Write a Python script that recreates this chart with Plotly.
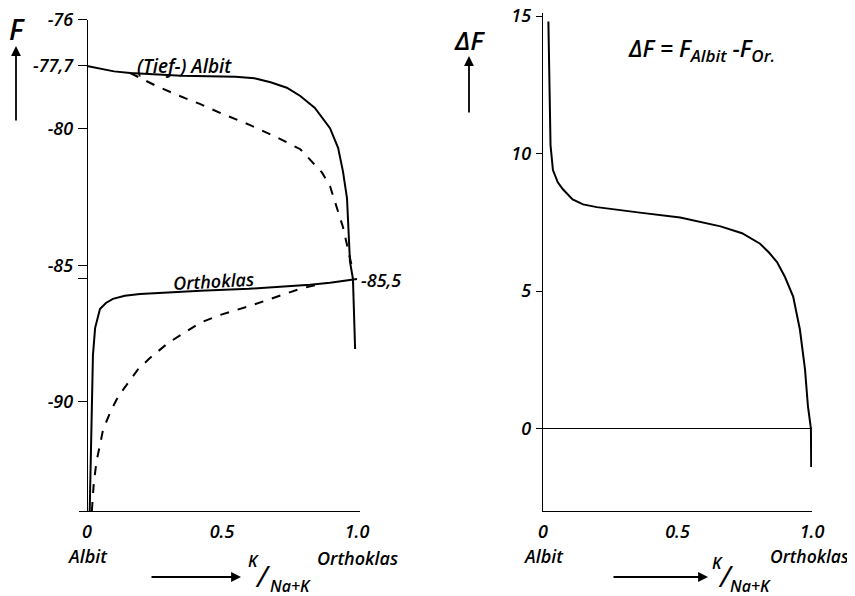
import plotly.graph_objects as go

# ---------------- data ----------------
albit_x = [0, 0.05, 0.1, 0.16, 0.25, 0.35, 0.45, 0.55, 0.62, 0.68, 0.74, 0.79, 0.844, 0.9, 0.93, 0.948, 0.963, 0.974, 0.985, 0.993]
albit_F = [-77.7, -77.8, -77.9, -77.96, -78.02, -78.06, -78.08, -78.1, -78.15, -78.3, -78.5, -78.8, -79.24, -79.98, -80.7, -81.56, -82.55, -84.87, -85.5, -88.07]

albit_dash_x = [0.16, 0.25, 0.33, 0.42, 0.5, 0.6, 0.7, 0.79, 0.87, 0.9, 0.948, 0.974, 0.98]
albit_dash_F = [-77.96, -78.4, -78.75, -79.1, -79.45, -79.85, -80.3, -80.75, -81.6, -82.1, -83.6, -84.65, -85.0]

orth_x = [0.01, 0.015, 0.022, 0.03, 0.048, 0.07, 0.096, 0.14, 0.196, 0.3, 0.42, 0.6, 0.79, 0.826, 0.9, 1.0]
orth_F = [-94.0, -91.7, -88.3, -87.3, -86.6, -86.38, -86.23, -86.12, -86.05, -86.0, -85.93, -85.86, -85.75, -85.71, -85.64, -85.5]

orth_dash_x = [0.018, 0.025, 0.035, 0.06, 0.09, 0.116, 0.16, 0.19, 0.233, 0.3, 0.42, 0.5, 0.6, 0.7, 0.79, 0.85]
orth_dash_F = [-94.0, -93.0, -92.2, -91.0, -90.3, -89.8, -89.2, -88.8, -88.4, -87.85, -87.1, -86.8, -86.5, -86.15, -85.86, -85.72]

dF_x = [0.02, 0.024, 0.028, 0.037, 0.055, 0.074, 0.11, 0.149, 0.2, 0.36, 0.51, 0.66, 0.74, 0.807, 0.84, 0.87, 0.9, 0.93, 0.955, 0.974, 0.985, 0.996, 0.997]
dF_y = [14.8, 12.0, 10.3, 9.4, 8.95, 8.7, 8.33, 8.15, 8.05, 7.85, 7.67, 7.35, 7.1, 6.72, 6.4, 6.05, 5.5, 4.8, 3.6, 2.15, 0.8, 0.0, -1.4]

F_ticks = [-76, -77.7, -80, -85, -85.5, -90]
F_ticktext = ["-76", "-77,7", "-80", "-85", "", "-90"]
F_right_ticks = [-76, -77.7, -80, -85, -90]
dF_ticks = [15, 10, 5, 0]
dF_right_ticks = [15, 10, 5]
x_ticks = [0, 0.5, 1.0]
x_ticktext = ["0", "0.5", "1.0"]

# ---------------- layout helpers ----------------
W, H = 855, 596
OFF = 8  # page body margin
def px(x):
    return (x - OFF) / W
def py(y):
    return 1 - (y - OFF) / H

FAM = "Open Sans"
def font(size, weight=600):
    return dict(family=FAM, size=size, color="black", style="italic", weight=weight)

LINE = dict(color="black", width=2)
DASH = dict(color="black", width=2, dash="dash")

fig = go.Figure()
fig.add_trace(go.Scatter(x=albit_x, y=albit_F, mode="lines", line=LINE, xaxis="x", yaxis="y"))
fig.add_trace(go.Scatter(x=albit_dash_x, y=albit_dash_F, mode="lines", line=DASH, xaxis="x", yaxis="y"))
fig.add_trace(go.Scatter(x=orth_x, y=orth_F, mode="lines", line=LINE, xaxis="x", yaxis="y"))
fig.add_trace(go.Scatter(x=orth_dash_x, y=orth_dash_F, mode="lines", line=DASH, xaxis="x", yaxis="y"))
fig.add_trace(go.Scatter(x=dF_x, y=dF_y, mode="lines", line=LINE, xaxis="x2", yaxis="y3"))

AX = dict(showgrid=False, zeroline=False, linecolor="black", linewidth=1.4, tickcolor="black",
          tickwidth=1.4, ticklabeloverflow="allow")

left_ydom = [py(511), py(19.5)]
right_ydom = [py(511), py(13)]
dF_range = [-3, 15 + 3/27.5]

fig.update_layout(
    width=W, height=H, margin=dict(l=0, r=0, t=0, b=0, autoexpand=False),
    paper_bgcolor="white", plot_bgcolor="rgba(0,0,0,0)", showlegend=False,
    xaxis=dict(AX, domain=[px(79), px(360)], range=[-8/270, 1 + 3/270], anchor="y",
               showline=True, ticks="", tickvals=x_ticks, ticktext=x_ticktext,
               tickfont=font(18), ticklabelstandoff=4),
    yaxis=dict(AX, domain=left_ydom, range=[-94, -76], anchor="free", position=px(87),
               showline=True, ticks="outside", ticklen=9, tickvals=F_ticks, ticktext=F_ticktext,
               tickfont=font(18), ticklabelstandoff=1),
    yaxis2=dict(AX, domain=left_ydom, range=[-94, -76], anchor="free", position=px(357),
                overlaying="y", side="right", showline=True, ticks="outside", ticklen=10,
                tickvals=F_right_ticks, showticklabels=False),
    xaxis2=dict(AX, domain=[px(543), px(812)], range=[0, 1.0], anchor="y3",
                showline=True, ticks="", tickvals=x_ticks, ticktext=x_ticktext,
                tickfont=font(18), ticklabelstandoff=4),
    yaxis3=dict(AX, domain=right_ydom, range=dF_range, anchor="x2", side="left",
                showline=True, ticks="outside", ticklen=6, tickvals=dF_ticks,
                tickfont=font(18), ticklabelstandoff=1,
                zeroline=True, zerolinecolor="black", zerolinewidth=1.2),
    yaxis4=dict(AX, domain=right_ydom, range=dF_range, anchor="x2",
                overlaying="y3", side="right", showline=True, ticks="outside", ticklen=10,
                tickvals=dF_right_ticks, showticklabels=False),
)

ann = []
def text(x, y, s, size, xanchor="center", yanchor="middle", textangle=0, xref="paper", weight=600):
    ann.append(dict(x=x, y=y, xref=xref, yref="paper", text=s, showarrow=False,
                    font=font(size, weight), xanchor=xanchor, yanchor=yanchor, textangle=textangle,
                    borderpad=0))

def arrow(x0, y0, x1, y1):
    # head at (x1, y1), tail at (x0, y0), pixel coordinates
    ann.append(dict(x=px(x1), y=py(y1), xref="paper", yref="paper", text="",
                    showarrow=True, ax=x0 - x1, ay=y0 - y1, axref="pixel", ayref="pixel",
                    arrowhead=2, arrowsize=1.1, arrowwidth=1.8, arrowcolor="black"))

# left panel texts
text(px(17), py(29), "F", 28)
arrow(16, 122, 16, 46)
text(px(184), py(66), "(Tief-) Albit", 19)
text(px(213), py(281), "Orthoklas", 18, textangle=-3)
text(px(360), py(280), "-85,5", 18, xanchor="left")
text(0, py(556), "Albit", 18, xref="x")
text(1, py(558), "Orthoklas", 18, xref="x")
arrow(150, 577, 241, 577)
text(px(253), py(561), "K", 16)
text(px(263), py(575), "/", 30, weight=400)
text(px(290), py(586), "Na+K", 16)

# right panel texts
text(px(469), py(40), "ΔF", 26)
arrow(469, 114, 469, 56)
text(px(701), py(50),
     "ΔF = F<sub><span style='font-size:17px'>Albit</span></sub> -F<sub><span style='font-size:17px'>Or.</span></sub>", 23)
text(0, py(556), "Albit", 18, xref="x2")
text(px(809), py(556), "Orthoklas", 17.5)
arrow(612, 577, 708, 577)
text(px(717), py(563), "K", 16)
text(px(726), py(575), "/", 30, weight=400)
text(px(750), py(586), "Na+K", 16)

fig.update_layout(annotations=ann)
fig.write_html("out.html")
